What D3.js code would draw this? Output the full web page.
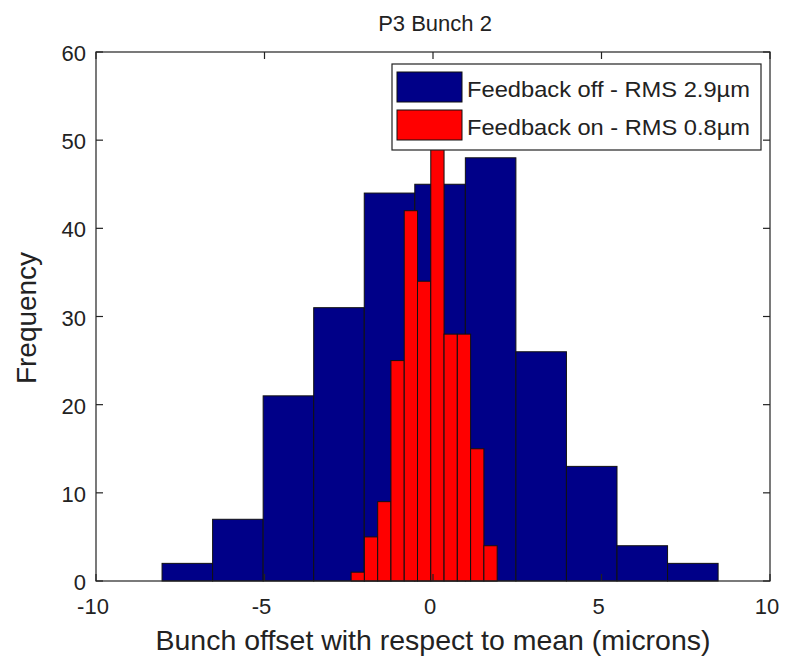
<!DOCTYPE html>
<html>
<head>
<meta charset="utf-8">
<script src="https://cdn.jsdelivr.net/npm/d3@7"></script>
<style>
  body { margin: 0; background: #fff; }
  text { font-family: "Liberation Sans", Arial, sans-serif; fill: #222; }
</style>
</head>
<body>
<div id="chart"></div>
<script>
// histogram bins (left edge of first bin + bin width) and counts
var offStart = -8.04, offWidth = 1.5;
var offCounts = [2, 7, 21, 31, 44, 45, 48, 26, 13, 4, 2];
var onStart = -2.43, onWidth = 0.394;
var onCounts = [1, 5, 9, 25, 42, 34, 52, 28, 28, 15, 4];

var xTicks = [-10, -5, 0, 5, 10];
var yTicks = [0, 10, 20, 30, 40, 50, 60];
var legendLabels = ["Feedback off - RMS 2.9\u00b5m", "Feedback on - RMS 0.8\u00b5m"];
var colors = ["#000088", "#ff0000"];

var width = 787, height = 656;
var margin = {left: 96, right: 17, top: 52, bottom: 75};

var svg = d3.select("#chart").append("svg")
    .attr("width", width)
    .attr("height", height);

var x = d3.scaleLinear().domain([-10, 10]).range([margin.left, width - margin.right]);
var y = d3.scaleLinear().domain([0, 60]).range([height - margin.bottom, margin.top]);

function bins(start, w, counts) {
    return counts.map(function(c, i) {
        return {x0: start + i * w, x1: start + (i + 1) * w, n: c};
    });
}

var series = [bins(offStart, offWidth, offCounts), bins(onStart, onWidth, onCounts)];

series.forEach(function(s, k) {
    svg.append("g").selectAll("rect")
        .data(s)
        .enter().append("rect")
        .attr("x", function(d) { return x(d.x0); })
        .attr("width", function(d) { return x(d.x1) - x(d.x0); })
        .attr("y", function(d) { return y(d.n); })
        .attr("height", function(d) { return y(0) - y(d.n); })
        .attr("fill", colors[k])
        .attr("stroke", "#111")
        .attr("stroke-width", 1);
});

// box + ticks inward on all sides
var tl = 7;
var axes = svg.append("g").attr("stroke", "#222").attr("stroke-width", 1.2);
axes.append("rect")
    .attr("x", x(-10)).attr("y", y(60))
    .attr("width", x(10) - x(-10)).attr("height", y(0) - y(60))
    .attr("fill", "none");
xTicks.forEach(function(t) {
    axes.append("line").attr("x1", x(t)).attr("x2", x(t)).attr("y1", y(0)).attr("y2", y(0) - tl);
    axes.append("line").attr("x1", x(t)).attr("x2", x(t)).attr("y1", y(60)).attr("y2", y(60) + tl);
});
yTicks.forEach(function(t) {
    axes.append("line").attr("y1", y(t)).attr("y2", y(t)).attr("x1", x(-10)).attr("x2", x(-10) + tl);
    axes.append("line").attr("y1", y(t)).attr("y2", y(t)).attr("x1", x(10)).attr("x2", x(10) - tl);
});

svg.append("g").selectAll("text")
    .data(xTicks)
    .enter().append("text")
    .attr("x", function(d) { return x(d) - 3; })
    .attr("y", y(0) + 33)
    .attr("text-anchor", "middle")
    .style("font-size", "22px")
    .text(function(d) { return d; });

svg.append("g").selectAll("text")
    .data(yTicks)
    .enter().append("text")
    .attr("x", x(-10) - 10)
    .attr("y", function(d) { return y(d) + 9; })
    .attr("text-anchor", "end")
    .style("font-size", "22px")
    .text(function(d) { return d; });

svg.append("text")
    .attr("x", x(0) + 2).attr("y", 31)
    .attr("text-anchor", "middle")
    .style("font-size", "22px")
    .text("P3 Bunch 2");

svg.append("text")
    .attr("x", x(0)).attr("y", 650)
    .attr("text-anchor", "middle")
    .attr("textLength", 555)
    .attr("lengthAdjust", "spacingAndGlyphs")
    .style("font-size", "28px")
    .text("Bunch offset with respect to mean (microns)");

svg.append("text")
    .attr("transform", "translate(36,318) rotate(-90)")
    .attr("text-anchor", "middle")
    .attr("textLength", 132)
    .attr("lengthAdjust", "spacingAndGlyphs")
    .style("font-size", "28px")
    .text("Frequency");

// legend
var lg = svg.append("g").attr("transform", "translate(392,64)");
lg.append("rect")
    .attr("width", 369).attr("height", 86)
    .attr("fill", "#fff").attr("stroke", "#222").attr("stroke-width", 1.2);
legendLabels.forEach(function(l, i) {
    lg.append("rect")
        .attr("x", 5).attr("y", 8 + i * 38)
        .attr("width", 65).attr("height", 30)
        .attr("fill", colors[i]).attr("stroke", "#111");
    lg.append("text")
        .attr("x", 75).attr("y", 33 + i * 38)
        .attr("textLength", 283)
        .attr("lengthAdjust", "spacingAndGlyphs")
        .style("font-size", "22px")
        .text(l);
});
</script>
</body>
</html>
